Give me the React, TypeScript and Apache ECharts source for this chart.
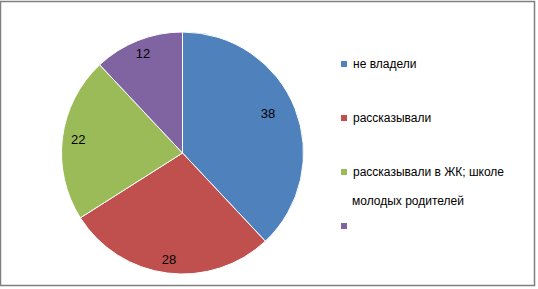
import React, { useEffect, useRef } from "react";
import * as echarts from "echarts";

const categories = [
  "не владели",
  "рассказывали",
  "рассказывали в ЖК; школе молодых родителей",
  " ",
];
const values = [38, 28, 22, 12];
const colors = ["#4F81BD", "#C0504D", "#9BBB59", "#8064A2"];
const legendFirstLine = "рассказывали в ЖК; школе";
const legendSecondLine = "молодых родителей";

const FONT = "Liberation Sans";

// fine placement of the data labels inside each slice (padding shifts the centred text)
const labelPads: number[][] = [
  [0, 28, 6, 0],
  [14, 0, 0, 0],
  [24, 0, 0, 4],
  [2, 0, 0, 0],
];

export default function App() {
  const ref = useRef<HTMLDivElement>(null);
  useEffect(() => {
    if (!ref.current) return;
    const chart = echarts.init(ref.current, null, { renderer: "svg" });
    const R = 121;
    const data = categories.map((name, i) => ({
      name,
      value: values[i],
      itemStyle: { color: colors[i] },
    }));
    chart.setOption({
      animation: false,
      backgroundColor: "#ffffff",
      legend: {
        orient: "vertical",
        left: 339,
        top: 57,
        padding: 0,
        itemWidth: 8,
        itemHeight: 8,
        itemGap: 40,
        icon: "rect",
        selectedMode: false,
        data: categories,
        formatter: (name: string) =>
          name === categories[2] ? legendFirstLine : name,
        textStyle: {
          fontFamily: FONT,
          fontSize: 12,
          color: "#000",
          lineHeight: 14,
        },
      },
      graphic: [
        {
          type: "rect",
          shape: { x: 0.5, y: 1.5, width: 534, height: 284 },
          style: { fill: "none", stroke: "#808080", lineWidth: 1.5 },
          silent: true,
        },
        {
          type: "text",
          x: 352,
          y: 201,
          style: {
            text: legendSecondLine,
            fontFamily: FONT,
            fontSize: 12,
            fill: "#000",
            verticalAlign: "middle",
          },
          silent: true,
        },
      ],
      series: [
        {
          type: "pie",
          center: [182.5, 153],
          radius: [0, R],
          startAngle: 90,
          clockwise: true,
          silent: true,
          label: { show: false },
          labelLine: { show: false },
          itemStyle: { borderColor: "#ffffff", borderWidth: 1 },
          data,
        },
        {
          type: "pie",
          center: [182.5, 153],
          radius: [R * 0.72, R],
          startAngle: 90,
          clockwise: true,
          silent: true,
          itemStyle: { color: "transparent" },
          label: {
            show: true,
            position: "inside",
            formatter: "{c}",
            fontFamily: FONT,
            fontSize: 13,
            color: "#000",
          },
          labelLine: { show: false },
          data: categories.map((name, i) => ({
            name,
            value: values[i],
            label: { padding: labelPads[i] },
          })),
        },
      ],
    });
    return () => chart.dispose();
  }, []);
  return (
    <div
      ref={ref}
      style={{
        position: "fixed",
        left: 0,
        top: 0,
        width: 538,
        height: 289,
      }}
    />
  );
}
